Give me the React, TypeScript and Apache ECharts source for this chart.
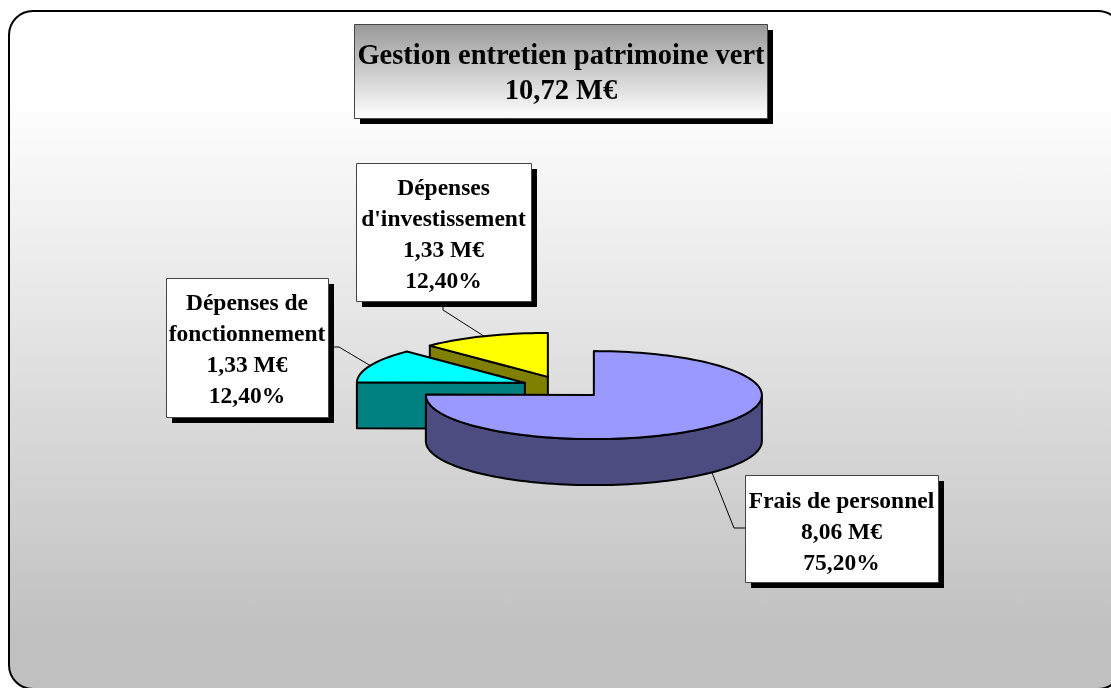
import React, { useEffect, useRef } from "react";
import * as echarts from "echarts";

const categories = ["Frais de personnel", "Dépenses de fonctionnement", "Dépenses d'investissement"];
const amounts = [8.06, 1.33, 1.33];
const percents = [75.2, 12.4, 12.4];
const labelLines = [
  ["Frais de personnel", "8,06 M€", "75,20%"],
  ["Dépenses de", "fonctionnement", "1,33 M€", "12,40%"],
  ["Dépenses", "d'investissement", "1,33 M€", "12,40%"],
];
const titleLines = ["Gestion entretien patrimoine vert", "10,72 M€"];

const PIE = { cx: 564, cy: 387.2, rx: 168, ry: 44, explode: 42.5, depth: 46 };
const TOP_FILL = ["#9999FF", "#00FFFF", "#FFFF00"];
const SIDE_FILL = ["#4C4C80", "#008080", "#808000"];
const BOXES = [
  { x: 745, y: 475, w: 193, h: 107, textTop: 25 },
  { x: 166, y: 278, w: 162, h: 139, textTop: 24 },
  { x: 356, y: 163, w: 175, h: 138, textTop: 24 },
];
const LEADERS: number[][][] = [
  [[734, 528], [745, 528]],
  [[339, 347], [328, 347]],
  [[443, 310], [443, 301]],
];
const FONT = '"Liberation Serif", "Times New Roman", serif';
const total = percents.reduce((a, b) => a + b, 0);

function sliceAngles(i: number) {
  let s = 0;
  for (let k = 0; k < i; k++) s += (percents[k] / total) * Math.PI * 2;
  return [s, s + (percents[i] / total) * Math.PI * 2];
}
function apex(i: number) {
  const [s, e] = sliceAngles(i);
  const m = (s + e) / 2;
  const f = PIE.ry / PIE.rx;
  return [PIE.cx + PIE.explode * Math.sin(m), PIE.cy - PIE.explode * Math.cos(m) * f];
}
function rim(c: number[], a: number, dy = 0) {
  return [c[0] + PIE.rx * Math.sin(a), c[1] - PIE.ry * Math.cos(a) + dy];
}
function arcPoints(c: number[], a0: number, a1: number, dy = 0) {
  const n = Math.max(2, Math.ceil(((a1 - a0) * 180) / Math.PI / 2));
  const pts: number[][] = [];
  for (let j = 0; j <= n; j++) pts.push(rim(c, a0 + ((a1 - a0) * j) / n, dy));
  return pts;
}
function leaderAnchor(i: number) {
  const [s, e] = sliceAngles(i);
  const m = (s + e) / 2;
  const visibleFront = m > Math.PI / 2 && m < (3 * Math.PI) / 2;
  return rim(apex(i), m, visibleFront ? PIE.depth : 0);
}

const renderSlice = (_p: any, api: any) => {
  const i = api.value(0) as number;
  const c = apex(i);
  const [s, e] = sliceAngles(i);
  const line = { stroke: "#000", lineWidth: 2, lineJoin: "round" };
  const children: any[] = [];
  if (s > Math.PI && s < Math.PI * 2) {
    const p = rim(c, s);
    children.push({
      type: "polygon",
      shape: { points: [p, c, [c[0], c[1] + PIE.depth], [p[0], p[1] + PIE.depth]] },
      style: { fill: SIDE_FILL[i], ...line },
    });
  }
  const f0 = Math.max(s, Math.PI / 2);
  const f1 = Math.min(e, Math.PI * 1.5);
  if (f1 > f0) {
    const upper = arcPoints(c, f0, f1);
    const lower = arcPoints(c, f0, f1, PIE.depth).reverse();
    children.push({
      type: "polygon",
      shape: { points: [...upper, ...lower] },
      style: { fill: SIDE_FILL[i], ...line },
    });
  }
  children.push({
    type: "polygon",
    shape: { points: [c, ...arcPoints(c, s, e)] },
    style: { fill: TOP_FILL[i], ...line },
  });
  return { type: "group", children };
};

function shadowBox(b: { x: number; y: number; w: number; h: number }, fill: any, z: number) {
  return [
    { type: "rect", z, silent: true, shape: { x: b.x + 6, y: b.y + 6, width: b.w, height: b.h }, style: { fill: "#000" } },
    {
      type: "rect",
      z: z + 1,
      silent: true,
      shape: { x: b.x + 0.5, y: b.y + 0.5, width: b.w, height: b.h },
      style: { fill, stroke: "#444", lineWidth: 1 },
    },
  ];
}

export default function App() {
  const ref = useRef<HTMLDivElement>(null);
  useEffect(() => {
    if (!ref.current) return;
    const chart = echarts.init(ref.current, undefined, { renderer: "svg" });
    const graphic: any[] = [];
    graphic.push({
      type: "rect",
      z: -10,
      silent: true,
      shape: { x: 9, y: 11, width: 1113, height: 678, r: 24 },
      style: {
        stroke: "#000",
        lineWidth: 2,
        fill: new echarts.graphic.LinearGradient(0, 0, 0, 1, [
          { offset: 0, color: "#ffffff" },
          { offset: 0.124, color: "#ffffff" },
          { offset: 0.927, color: "#c0c0c0" },
          { offset: 1, color: "#c0c0c0" },
        ]),
      },
    });
    graphic.push(
      ...shadowBox(
        { x: 354, y: 24, w: 413, h: 94 },
        new echarts.graphic.LinearGradient(0, 0, 0, 1, [
          { offset: 0, color: "#999999" },
          { offset: 1, color: "#ffffff" },
        ]),
        20,
      ),
    );
    titleLines.forEach((t, k) =>
      graphic.push({
        type: "text",
        z: 25,
        silent: true,
        x: 561,
        y: 54 + k * 35,
        style: { text: t, font: `bold 28.5px ${FONT}`, fill: "#000", textAlign: "center", textVerticalAlign: "middle" },
      }),
    );
    BOXES.forEach((b, i) => {
      graphic.push({
        type: "polyline",
        z: 15,
        silent: true,
        shape: { points: [leaderAnchor(i), ...LEADERS[i]] },
        style: { stroke: "#000", lineWidth: 1, fill: "none" },
      });
      graphic.push(...shadowBox(b, "#fff", 20));
      labelLines[i].forEach((t, k) =>
        graphic.push({
          type: "text",
          z: 25,
          silent: true,
          x: b.x + b.w / 2,
          y: b.y + b.textTop + k * 31,
          style: { text: t, font: `bold 23.5px ${FONT}`, fill: "#000", textAlign: "center", textVerticalAlign: "middle" },
        }),
      );
    });
    chart.setOption({
      animation: false,
      graphic,
      series: [
        {
          type: "custom",
          coordinateSystem: "none",
          silent: true,
          z: 10,
          renderItem: renderSlice,
          // painted back to front
          data: [2, 1, 0].map((i) => ({ name: categories[i], value: [i, amounts[i], percents[i]] })),
        },
      ],
    });
    return () => chart.dispose();
  }, []);
  return <div ref={ref} style={{ position: "fixed", left: 0, top: 0, width: 1111, height: 688 }} />;
}
